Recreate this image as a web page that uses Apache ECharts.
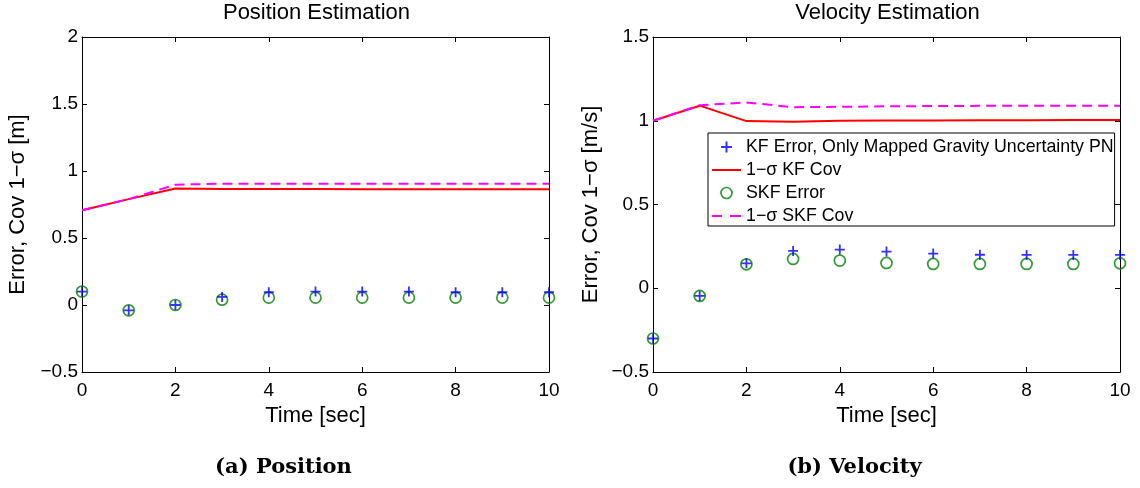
<!DOCTYPE html>
<html>
<head>
<meta charset="utf-8">
<script src="https://cdn.jsdelivr.net/npm/echarts@6/dist/echarts.min.js"></script>
<style>html,body{margin:0;padding:0;background:#fff;}#c{width:1140px;height:488px;}</style>
</head>
<body>
<div id="c"></div>
<script>
const timeSec = [0, 1, 2, 3, 4, 5, 6, 7, 8, 9, 10];
// Position panel (m)
const posKFError = [0.10, -0.04, 0.00, 0.06, 0.095, 0.10, 0.10, 0.10, 0.095, 0.095, 0.095];
const posKFCov = [0.707, 0.79, 0.87, 0.866, 0.865, 0.865, 0.864, 0.864, 0.864, 0.863, 0.863];
const posSKFError = [0.10, -0.04, 0.00, 0.04, 0.055, 0.055, 0.055, 0.055, 0.055, 0.055, 0.055];
const posSKFCov = [0.707, 0.79, 0.898, 0.905, 0.905, 0.905, 0.905, 0.905, 0.905, 0.905, 0.905];
// Velocity panel (m/s)
const velKFError = [-0.30, -0.046, 0.149, 0.223, 0.231, 0.219, 0.207, 0.200, 0.199, 0.199, 0.199];
const velKFCov = [1.0, 1.09, 0.998, 0.994, 1.0, 1.001, 1.002, 1.003, 1.003, 1.004, 1.004];
const velSKFError = [-0.30, -0.046, 0.143, 0.175, 0.165, 0.151, 0.145, 0.145, 0.145, 0.145, 0.149];
const velSKFCov = [1.0, 1.093, 1.109, 1.081, 1.083, 1.086, 1.088, 1.089, 1.09, 1.09, 1.09];

const seriesNames = ['KF Error, Only Mapped Gravity Uncertainty PN', '1\u2212\u03c3 KF Cov', 'SKF Error', '1\u2212\u03c3 SKF Cov'];
const panelTitles = ['Position Estimation', 'Velocity Estimation'];
const panelYNames = ['Error, Cov 1\u2212\u03c3 [m]', 'Error, Cov 1\u2212\u03c3 [m/s]'];
const panelCaptions = ['(a) Position', '(b) Velocity'];
const xName = 'Time [sec]';

const FONT = 'Liberation Sans, Arial, Helvetica, sans-serif';
const plusPath = 'path://M4.1,0H5.9V4.1H10V5.9H5.9V10H4.1V5.9H0V4.1H4.1Z';
const solidLinePath = 'path://M0,0H29V2H0Z';
const dashLinePath = 'path://M0,0H10V2H0Z M18,0H29V2H18Z';
const pairs = (ys) => timeSec.map((t, i) => [t, ys[i]]);
const fmt = (v) => String(v).replace('-', '\u2212');

const grids = [
  { left: 82, top: 37, width: 467, height: 335 },
  { left: 653, top: 37, width: 467, height: 335 }
];
const yRanges = [[-0.5, 2], [-0.5, 1.5]];
const yNameGaps = [53, 51];

const xAxes = [], yAxes = [];
grids.forEach((g, gi) => {
  const lineS = { show: true, onZero: false, lineStyle: { color: '#000', width: 1 } };
  const tickS = { show: true, inside: true, length: 5, lineStyle: { color: '#000' } };
  xAxes.push({
    type: 'value', gridIndex: gi, min: 0, max: 10, interval: 2, position: 'bottom',
    axisLine: lineS, axisTick: tickS, splitLine: { show: false },
    axisLabel: { color: '#000', fontSize: 19, fontFamily: FONT, margin: 9, formatter: fmt },
    name: xName, nameLocation: 'middle', nameGap: 28,
    nameTextStyle: { color: '#000', fontSize: 22, fontFamily: FONT }
  });
  xAxes.push({
    type: 'value', gridIndex: gi, min: 0, max: 10, interval: 2, position: 'top',
    axisLine: lineS, axisTick: tickS, splitLine: { show: false }, axisLabel: { show: false }
  });
  yAxes.push({
    type: 'value', gridIndex: gi, min: yRanges[gi][0], max: yRanges[gi][1], interval: 0.5, position: 'left',
    axisLine: lineS, axisTick: tickS, splitLine: { show: false },
    axisLabel: { color: '#000', fontSize: 19, fontFamily: FONT, margin: 4, formatter: fmt },
    name: panelYNames[gi], nameLocation: 'middle', nameGap: yNameGaps[gi], nameRotate: 90,
    nameTextStyle: { color: '#000', fontSize: 22, fontFamily: FONT }
  });
  yAxes.push({
    type: 'value', gridIndex: gi, min: yRanges[gi][0], max: yRanges[gi][1], interval: 0.5, position: 'right',
    axisLine: lineS, axisTick: tickS, splitLine: { show: false }, axisLabel: { show: false }
  });
});

function panelSeries(gi, kfErr, kfCov, skfErr, skfCov) {
  const xi = gi * 2, yi = gi * 2;
  return [
    { name: seriesNames[0], type: 'scatter', xAxisIndex: xi, yAxisIndex: yi, data: pairs(kfErr),
      symbol: plusPath, symbolSize: 10, itemStyle: { color: '#0000ff' }, z: 5, silent: true },
    { name: seriesNames[1], type: 'line', xAxisIndex: xi, yAxisIndex: yi, data: pairs(kfCov),
      symbol: 'none', lineStyle: { color: '#ff0000', width: 2 }, itemStyle: { color: '#ff0000' }, z: 3, silent: true },
    { name: seriesNames[2], type: 'scatter', xAxisIndex: xi, yAxisIndex: yi, data: pairs(skfErr),
      symbol: 'circle', symbolSize: 11,
      itemStyle: { color: 'rgba(0,0,0,0)', borderColor: '#008000', borderWidth: 1.7 }, z: 4, silent: true },
    { name: seriesNames[3], type: 'line', xAxisIndex: xi, yAxisIndex: yi, data: pairs(skfCov),
      symbol: 'none', lineStyle: { color: '#ff00ff', width: 2, type: [10, 6] }, itemStyle: { color: '#ff00ff' }, z: 3, silent: true }
  ];
}

const series = [].concat(
  panelSeries(0, posKFError, posKFCov, posSKFError, posSKFCov),
  panelSeries(1, velKFError, velKFCov, velSKFError, velSKFCov)
);

const titles = [];
grids.forEach((g, gi) => {
  const cx = g.left + g.width / 2;
  titles.push({ text: panelTitles[gi], left: cx, top: 1, textAlign: 'center', padding: 1,
    textStyle: { color: '#000', fontSize: 22, fontWeight: 'normal', fontFamily: FONT } });
  titles.push({ text: panelCaptions[gi], left: cx - 32, top: 457, textAlign: 'center', padding: 0,
    textStyle: { color: '#000', fontSize: 21, fontWeight: 'bold', fontFamily: 'DejaVu Serif, serif' } });
});

const chart = echarts.init(document.getElementById('c'), null, { renderer: 'canvas' });
chart.setOption({
  backgroundColor: '#fff',
  animation: false,
  title: titles,
  grid: grids,
  xAxis: xAxes,
  yAxis: yAxes,
  legend: {
    data: [
      { name: seriesNames[0], icon: plusPath, itemStyle: { color: '#0000ff' } },
      { name: seriesNames[1], icon: solidLinePath, itemStyle: { color: '#ff0000', borderWidth: 0 } },
      { name: seriesNames[2], icon: 'circle', itemStyle: { color: 'rgba(0,0,0,0)', borderColor: '#008000', borderWidth: 1.7 } },
      { name: seriesNames[3], icon: dashLinePath, itemStyle: { color: '#ff00ff', borderWidth: 0 } }
    ],
    orient: 'vertical', left: 708, top: 133,
    padding: [5, 1, 1, 4], itemGap: 5, itemWidth: 29, itemHeight: 11,
    backgroundColor: '#fff', borderColor: '#000', borderWidth: 1, borderRadius: 0,
    selectedMode: false,
    textStyle: { color: '#000', fontSize: 17.8, fontFamily: FONT, lineHeight: 18 }
  },
  series: series
});
</script>
</body>
</html>
